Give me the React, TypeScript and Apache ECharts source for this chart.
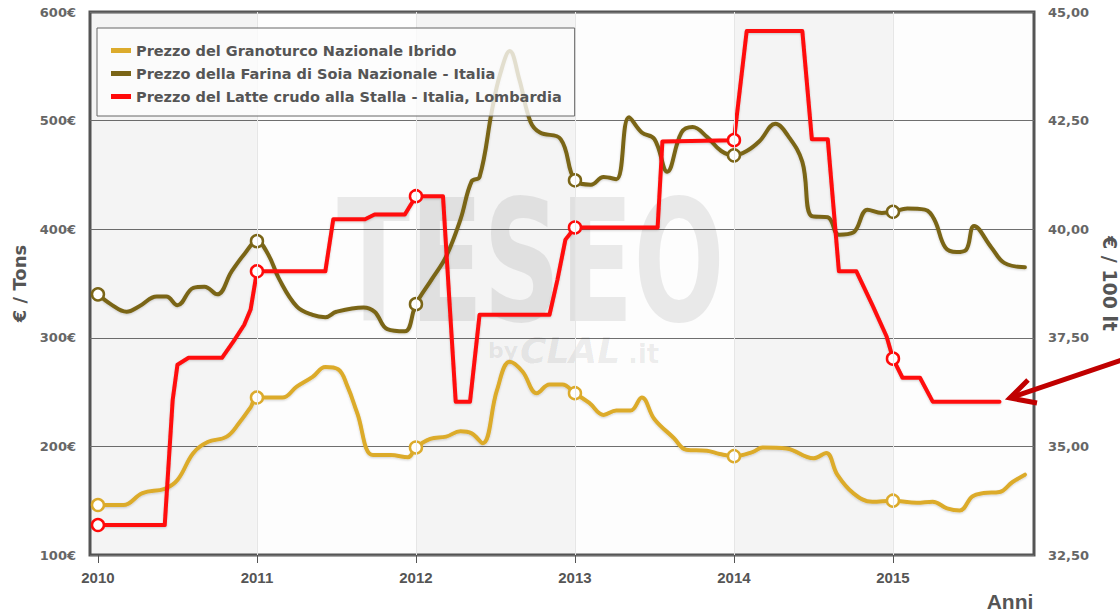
import React, { useEffect, useRef } from "react";
import * as echarts from "echarts";

// ---- data ----
const yearTicks = [2010, 2011, 2012, 2013, 2014, 2015];
const shadedYears: [number, number][] = [
  [2009.95, 2011],
  [2012, 2013],
  [2014, 2015],
];

const seriesNames = [
  "Prezzo del Granoturco Nazionale Ibrido",
  "Prezzo della Farina di Soia Nazionale - Italia",
  "Prezzo del Latte crudo alla Stalla - Italia, Lombardia",
];

// € / Tons
const cornPrice: [number, number][] = [
  [2010.0, 146], [2010.16, 146], [2010.28, 157], [2010.42, 161], [2010.5, 169],
  [2010.6, 194], [2010.69, 204], [2010.81, 209], [2010.89, 222], [2010.96, 236],
  [2011.0, 245], [2011.16, 245], [2011.25, 255], [2011.35, 264], [2011.43, 273],
  [2011.51, 271], [2011.57, 255], [2011.63, 231], [2011.73, 192], [2011.84, 192],
  [2011.95, 190], [2012.0, 199], [2012.09, 207], [2012.19, 209], [2012.28, 214],
  [2012.35, 212], [2012.42, 203], [2012.51, 252], [2012.59, 278], [2012.67, 269],
  [2012.76, 249], [2012.84, 257], [2012.92, 257], [2013.0, 249], [2013.09, 240],
  [2013.18, 229], [2013.26, 233], [2013.35, 233], [2013.42, 245], [2013.5, 225],
  [2013.62, 208], [2013.7, 197], [2013.83, 196], [2013.91, 193], [2014.0, 191],
  [2014.12, 195], [2014.18, 199], [2014.33, 198], [2014.5, 189], [2014.58, 194],
  [2014.65, 174], [2014.75, 157], [2014.87, 149], [2015.0, 150], [2015.15, 148],
  [2015.25, 149], [2015.34, 143], [2015.42, 141], [2015.5, 154], [2015.57, 157],
  [2015.67, 158], [2015.75, 167], [2015.83, 174],
];

// € / Tons
const soyPrice: [number, number][] = [
  [2010.0, 340], [2010.08, 331], [2010.18, 324], [2010.26, 329], [2010.37, 338],
  [2010.43, 338], [2010.5, 330], [2010.6, 346], [2010.67, 347], [2010.75, 340],
  [2010.84, 361], [2010.92, 377], [2011.0, 389], [2011.07, 377], [2011.14, 354],
  [2011.25, 329], [2011.35, 321], [2011.43, 319], [2011.5, 324], [2011.67, 328],
  [2011.74, 324], [2011.82, 308], [2011.93, 306], [2012.0, 331], [2012.1, 354],
  [2012.19, 375], [2012.28, 409], [2012.35, 444], [2012.4, 448], [2012.48, 511],
  [2012.53, 543], [2012.59, 564], [2012.65, 538], [2012.72, 499], [2012.78, 489],
  [2012.91, 483], [2013.0, 445], [2013.1, 441], [2013.18, 448], [2013.26, 446],
  [2013.34, 503], [2013.42, 489], [2013.5, 483], [2013.58, 453], [2013.67, 489],
  [2013.74, 494], [2013.83, 485], [2013.92, 472], [2014.0, 468], [2014.08, 472],
  [2014.16, 481], [2014.26, 497], [2014.34, 486], [2014.43, 462], [2014.49, 412],
  [2014.59, 411], [2014.66, 395], [2014.75, 397], [2014.84, 418], [2014.93, 415],
  [2015.0, 416], [2015.09, 419], [2015.2, 418], [2015.26, 409], [2015.33, 383],
  [2015.4, 379], [2015.46, 381], [2015.51, 403], [2015.62, 383], [2015.7, 369],
  [2015.83, 365],
];

// € / 100 lt
const milkPrice: [number, number][] = [
  [2010.0, 33.19], [2010.42, 33.19], [2010.47, 36.07], [2010.5, 36.88], [2010.57, 37.04],
  [2010.78, 37.04], [2010.86, 37.46], [2010.92, 37.8], [2010.96, 38.15], [2011.0, 39.03],
  [2011.43, 39.03], [2011.48, 40.23], [2011.68, 40.23], [2011.74, 40.34], [2011.93, 40.34],
  [2012.0, 40.76], [2012.17, 40.76], [2012.21, 38.38], [2012.25, 36.03], [2012.34, 36.03],
  [2012.4, 38.03], [2012.84, 38.03], [2012.89, 38.84], [2012.94, 39.76], [2013.0, 40.04],
  [2013.52, 40.04], [2013.55, 42.02], [2014.0, 42.05], [2014.08, 44.56], [2014.43, 44.56],
  [2014.49, 42.07], [2014.59, 42.07], [2014.66, 39.03], [2014.77, 39.03], [2014.87, 38.26],
  [2014.96, 37.53], [2015.0, 37.02], [2015.06, 36.58], [2015.17, 36.58], [2015.25, 36.03],
  [2015.67, 36.03],
];

const colors = ["#dcab2c", "#7a6517", "#ff0a0a"];

const FONT = "'DejaVu Sans', Verdana, sans-serif";
const NARROW = "'Liberation Sans Narrow', 'Liberation Sans', Arial, sans-serif";

function toData(points: [number, number][], color: string) {
  return points.map(([t, v]) =>
    Number.isInteger(t)
      ? {
          value: [t, v],
          symbol: "circle",
          symbolSize: 12,
          itemStyle: { color: "#ffffff", borderColor: color, borderWidth: 2.5 },
        }
      : { value: [t, v], symbol: "none" }
  );
}

export default function App() {
  const ref = useRef<HTMLDivElement>(null);

  useEffect(() => {
    if (!ref.current) return;
    const chart = echarts.init(ref.current, null, { renderer: "svg" });

    const lineSeries = (idx: number, points: [number, number][], yAxisIndex: number, smooth: any) => ({
      name: seriesNames[idx],
      type: "line",
      yAxisIndex,
      smooth,
      showSymbol: true,
      symbol: "none",
      z: 2,
      lineStyle: {
        width: 4,
        color: colors[idx],
        join: "round",
        cap: "round",
        shadowColor: "rgba(0,0,0,0.18)",
        shadowBlur: 2,
        shadowOffsetY: 1,
      },
      itemStyle: { color: colors[idx] },
      emphasis: { disabled: true },
      data: toData(points, colors[idx]),
    });

    const corn: any = lineSeries(0, cornPrice, 0, 0.4);
    corn.markArea = {
      silent: true,
      itemStyle: { color: "rgba(0,0,0,0.035)" },
      data: shadedYears.map(([a, b]) => [{ xAxis: a }, { xAxis: b }]),
    };
    corn.markLine = {
      silent: true,
      symbol: "none",
      label: { show: false },
      lineStyle: { color: "#e6e6e6", width: 1, type: "solid" },
      data: yearTicks.slice(1).map((y) => ({ xAxis: y })),
    };

    chart.setOption({
      animation: false,
      backgroundColor: "#ffffff",
      grid: {
        left: 90,
        right: 86,
        top: 12,
        bottom: 56,
        outerBoundsMode: "none",
        containLabel: false,
        show: true,
        borderColor: "#555555",
        borderWidth: 3,
        backgroundColor: "#fdfdfd",
      },
      legend: {
        orient: "vertical",
        left: 97,
        top: 28,
        z: 20,
        padding: [15, 13, 12, 14],
        itemGap: 8,
        itemWidth: 20,
        itemHeight: 5,
        icon: "rect",
        backgroundColor: "rgba(253,253,253,0.8)",
        borderColor: "#666666",
        borderWidth: 1,
        textStyle: { fontFamily: FONT, fontWeight: "bold", fontSize: 14.5, color: "#555555" },
        data: seriesNames,
      },
      xAxis: {
        type: "value",
        min: 2009.95,
        max: 2015.887,
        axisLine: { show: false },
        splitLine: { show: false },
        axisTick: {
          show: true,
          customValues: yearTicks,
          length: 8,
          lineStyle: { color: "#555555", width: 1 },
        },
        axisLabel: {
          customValues: yearTicks,
          formatter: (v: number) => String(Math.round(v)),
          margin: 15,
          fontFamily: NARROW,
          fontWeight: "bold",
          fontSize: 15,
          color: "#555555",
        },
      },
      yAxis: [
        {
          type: "value",
          min: 100,
          max: 600,
          interval: 100,
          position: "left",
          name: "€ / Tons",
          nameLocation: "middle",
          nameGap: 52,
          nameTextStyle: { fontFamily: FONT, fontWeight: "bold", fontSize: 18, color: "#555555" },
          axisLine: { show: false },
          axisTick: { show: false },
          splitLine: { show: true, lineStyle: { color: "#6f6f6f", width: 1 } },
          axisLabel: {
            formatter: (v: number) => v + "€",
            margin: 14,
            fontFamily: FONT,
            fontWeight: "bold",
            fontSize: 13,
            color: "#666666",
          },
        },
        {
          type: "value",
          min: 32.5,
          max: 45,
          interval: 2.5,
          position: "right",
          name: "€ / 100 lt",
          nameLocation: "middle",
          nameRotate: -90,
          nameGap: 60,
          nameTextStyle: { fontFamily: FONT, fontWeight: "bold", fontSize: 19, color: "#555555" },
          axisLine: { show: false },
          axisTick: { show: false },
          splitLine: { show: false },
          axisLabel: {
            formatter: (v: number) => v.toFixed(2).replace(".", ","),
            margin: 14,
            fontFamily: FONT,
            fontWeight: "bold",
            fontSize: 13,
            color: "#666666",
          },
        },
      ],
      graphic: [
        {
          type: "text",
          x: 337,
          y: 262,
          scaleX: 0.63,
          z: 1,
          silent: true,
          style: {
            text: "TESEO",
            fontFamily: FONT,
            fontWeight: "bold",
            fontSize: 170,
            fill: "rgba(0,0,0,0.08)",
            verticalAlign: "middle",
            align: "left",
          },
        },
        {
          type: "text",
          x: 488,
          y: 350,
          z: 1,
          silent: true,
          style: {
            text: "by",
            fontFamily: FONT,
            fontWeight: "bold",
            fontSize: 22,
            fill: "rgba(0,0,0,0.08)",
            verticalAlign: "middle",
          },
        },
        {
          type: "text",
          x: 520,
          y: 350,
          z: 1,
          silent: true,
          style: {
            text: "CLAL",
            fontFamily: FONT,
            fontWeight: "bold",
            fontStyle: "italic",
            fontSize: 36,
            fill: "rgba(0,0,0,0.08)",
            verticalAlign: "middle",
          },
        },
        {
          type: "text",
          x: 628,
          y: 354,
          z: 1,
          silent: true,
          style: {
            text: ".it",
            fontFamily: FONT,
            fontWeight: "bold",
            fontSize: 26,
            fill: "rgba(0,0,0,0.08)",
            verticalAlign: "middle",
          },
        },
        {
          type: "text",
          x: 1010,
          y: 601,
          silent: true,
          style: {
            text: "Anni",
            fontFamily: NARROW,
            fontWeight: "bold",
            fontSize: 21,
            fill: "#555555",
            align: "center",
            verticalAlign: "middle",
          },
        },
        {
          type: "line",
          silent: true,
          z: 10,
          shape: { x1: 1122, y1: 360, x2: 1013, y2: 397 },
          style: { stroke: "#c00000", lineWidth: 5 },
        },
        {
          type: "polyline",
          silent: true,
          z: 10,
          shape: { points: [[1028, 380], [1010, 398], [1037, 403]] },
          style: { stroke: "#c00000", lineWidth: 5, fill: null, lineJoin: "miter" },
        },
      ],
      series: [
        corn,
        lineSeries(1, soyPrice, 0, 0.4),
        lineSeries(2, milkPrice, 1, false),
      ],
    });

    return () => chart.dispose();
  }, []);

  return (
    <div
      ref={ref}
      style={{ position: "fixed", left: 0, top: 0, width: 1120, height: 611, background: "#fff" }}
    />
  );
}
